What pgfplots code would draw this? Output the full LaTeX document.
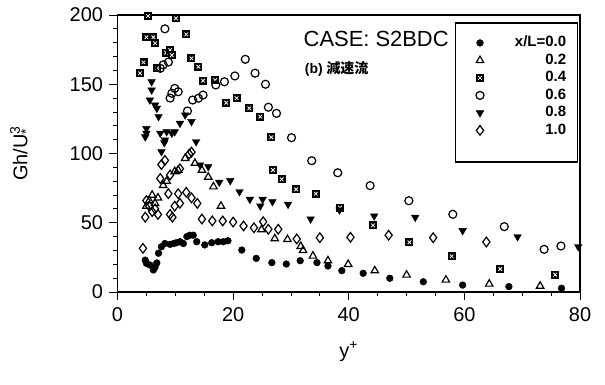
\documentclass[border=0pt]{standalone}
\usepackage{fontspec}
\setmainfont{Liberation Sans}
\newfontfamily\cjk{Noto Sans CJK JP}
\usepackage{pgfplots}
\pgfplotsset{compat=1.18}

\pgfdeclareplotmark{sqx}{%
  \pgfpathrectangle{\pgfqpoint{-\pgfplotmarksize}{-\pgfplotmarksize}}{\pgfqpoint{2\pgfplotmarksize}{2\pgfplotmarksize}}%
  \pgfusepathqfill
  \pgfsetstrokecolor{white}\pgfsetlinewidth{0.8pt}%
  \pgfpathmoveto{\pgfqpoint{-0.45\pgfplotmarksize}{-0.45\pgfplotmarksize}}%
  \pgfpathlineto{\pgfqpoint{0.45\pgfplotmarksize}{0.45\pgfplotmarksize}}%
  \pgfpathmoveto{\pgfqpoint{-0.45\pgfplotmarksize}{0.45\pgfplotmarksize}}%
  \pgfpathlineto{\pgfqpoint{0.45\pgfplotmarksize}{-0.45\pgfplotmarksize}}%
  \pgfusepathqstroke}

\begin{document}
\begin{tikzpicture}
\begin{axis}[
  scale only axis,
  width=462.5bp, height=277bp,
  xmin=0, xmax=80, ymin=0, ymax=200,
  xtick={0,20,40,60,80}, ytick={0,50,100,150,200},
  minor x tick num=3, minor y tick num=4,
  xtick pos=bottom, ytick pos=left,
  tick align=outside,
  major tick length=8bp, minor tick length=4bp,
  axis line style={line width=1.2bp},
  every tick/.style={black, line width=0.8bp},
  /pgf/number format/assume math mode=true,
  ticklabel style={font=\fontsize{20}{24}\selectfont},
  xticklabel style={yshift=-4bp},
  yticklabel style={xshift=-3bp},
  xlabel={y\textsuperscript{+}},
  ylabel={Gh/U\rlap{\textsubscript{*}}\textsuperscript{3}},
  every axis x label/.style={at={(axis description cs:0.5,-0.215)}, anchor=center, font=\fontsize{20}{24}\selectfont},
  every axis y label/.style={at={(axis description cs:-0.21,0.5)}, rotate=90, anchor=center, font=\fontsize{20}{24}\selectfont},
  legend style={at={(axis cs:77.8,186.3)}, anchor=north east, draw=none, fill=none,
    inner sep=0pt, row sep=0pt,
    font=\fontsize{15}{17}\selectfont\bfseries,
    nodes={inner sep=1pt, text height=11.5bp, text depth=4bp},
    /tikz/every odd column/.append style={column sep=30bp}},
  legend cell align=right,
  clip=false,
]
% x/L = 0.0 filled circles
\addplot[only marks, mark=*, mark size=3.4bp, black] coordinates {
(4.8,23)(5.0,20.7)(5.6,19.5)(6.2,15.9)(6.5,18)(6.8,21)(7.1,28)(7.6,32.7)(8.2,35)(9.1,34.4)
(9.7,35)(10.2,35.6)(10.8,36.3)(11.4,35)(12.0,40)(12.5,41)(13.1,41)(13.7,36.3)(15.1,34)(16.3,35.6)
(17.4,36.3)(18.3,36.3)(19.1,37)(21.5,30.3)(24,24.3)(26.7,21.2)(29.2,20.2)(31.6,22.6)(34.5,21.2)
(36.4,18.8)(38.8,15.4)(42.5,13.5)(47.1,9.9)(52.9,7.4)(59.7,5)(67.7,3.9)(76.8,2.7)};
\addlegendentry{x/L=0.0}
% 0.2 open triangles
\addplot[only marks, mark=triangle, mark size=4.3bp, black, mark options={line width=1.2bp}] coordinates {
(5.0,62)(5.5,66)(6.0,70)(6.5,64)(7.0,68)(7.9,77)(8.5,80)(9.9,87)(10.5,88)(11.7,96.5)(13.4,93)
(14.6,88)(15.7,83)(16.6,76)(17.9,62)(24.9,45)(27.2,38.5)(29.4,38)(31.7,33)(32.1,30)(33.8,26)
(36.4,22.6)(39.9,20)(44.5,15.4)(50,12.3)(56.8,8.7)(64.3,5.8)(73.1,4.3)};
\addlegendentry{0.2}
% 0.4 patterned squares
\addplot[only marks, mark=sqx, mark size=4bp, black] coordinates {
(3.9,157.9)(4.5,165.8)(5.0,183.9)(5.3,199.3)(6.2,183.9)(6.5,179.6)(6.9,161.5)(8.4,172.8)(9.1,174.7)
(9.4,171)(10.1,197.6)(11.9,186)(12.8,168.7)(14,162.7)(14.8,152.6)(16.9,153)(18.8,136.7)(20.6,139.9)
(22.8,132.6)(24.7,126.6)(26.6,111.7)(26.9,88.1)(28.4,81.4)(30.9,74.1)(34.3,71)(38.5,60.9)(44.2,48.1)
(50.5,35.9)(57.8,25.8)(66.2,16.6)(75.7,12.5)};
\addlegendentry{0.4}
% 0.6 open circles
\addplot[only marks, mark=o, mark size=4bp, black, mark options={line width=1.2bp}] coordinates {
(7.4,161.5)(7.9,164)(8.2,190)(8.8,166)(9.1,140)(9.4,143.5)(9.9,147)(10.5,144.6)(12.1,130.7)(13,138.6)
(14,139.9)(14.8,142.2)(17,149.5)(18.5,151.8)(20.3,156)(22.1,168)(23.8,158)(25.6,150)(26.1,133.4)
(27.5,129)(30.1,111.4)(33.6,94.8)(38.1,86.1)(43.7,76.8)(50.4,65.9)(58,56.1)(66.9,47.2)(73.8,30.8)(76.7,33.2)};
\addlegendentry{0.6}
% 0.8 filled down triangles
\addplot[only marks, mark=triangle*, mark size=4.4bp, black, mark options={rotate=180}] coordinates {
(4.8,112)(5.0,114.6)(5.0,118)(5.6,138.6)(5.9,145.8)(5.9,151.8)(6.5,135)(6.8,132.6)(7.1,126.6)(7.4,114.6)
(7.6,101.3)(8.1,107.8)(8.2,109.7)(8.5,115.7)(9.4,114.6)(9.9,115.7)(10.8,121.8)(11.7,127.8)(12.8,123)
(13.6,108.5)(14.3,91.7)(15.7,90.5)(17.6,79.2)(19.5,80.4)(21.1,72.4)(22.9,66.9)(24.7,62.1)(25.1,66.9)
(26.8,65.2)(29.5,63.3)(33.4,52.7)(38.4,59.2)(44.4,54.9)(51.5,53.9)(59.7,44.3)(69.2,39.9)(79.7,32.7)};
\addlegendentry{0.8}
% 1.0 open diamonds
\addplot[only marks, mark=diamond, mark size=4.8bp, black, mark options={line width=1.2bp}] coordinates {
(4.4,31.5)(4.8,54)(5.0,66)(5.5,62)(6.0,58)(6.5,60)(7.0,56)(7.4,82)(7.6,92)(8.2,95)(8.8,71)(9.1,56)
(9.5,54)(9.9,62)(10.5,71)(10.8,64)(11.9,72)(12.8,68)(13.8,64)(9.1,84.5)(10.8,89)(12.4,99.6)(12.8,101)
(14.6,52.7)(16.4,51.3)(18.2,51.3)(20,50.5)(21.8,47.7)(23.6,46.4)(25.2,50.8)(26.1,45.3)(27.8,45.3)
(31,38.3)(35,39.2)(40.3,39.5)(46.9,41)(54.6,39.2)(63.8,36.1)};
\addlegendentry{1.0}
% legend frame
\draw[line width=1.2bp] (axis cs:58.4,194.2) rectangle (axis cs:79.5,93.9);
\node[anchor=west, font=\fontsize{22}{26}\selectfont] at (axis cs:31.6,182.7) {CASE: S2BDC};
\node[anchor=west, font=\fontsize{14}{17}\selectfont\bfseries] at (axis cs:31.8,161) {(b) {\cjk 減速流}};
\end{axis}
\path (current axis.south west) ++(-117.5bp,-93bp) rectangle ++(605bp,385bp);
\end{tikzpicture}
\end{document}
